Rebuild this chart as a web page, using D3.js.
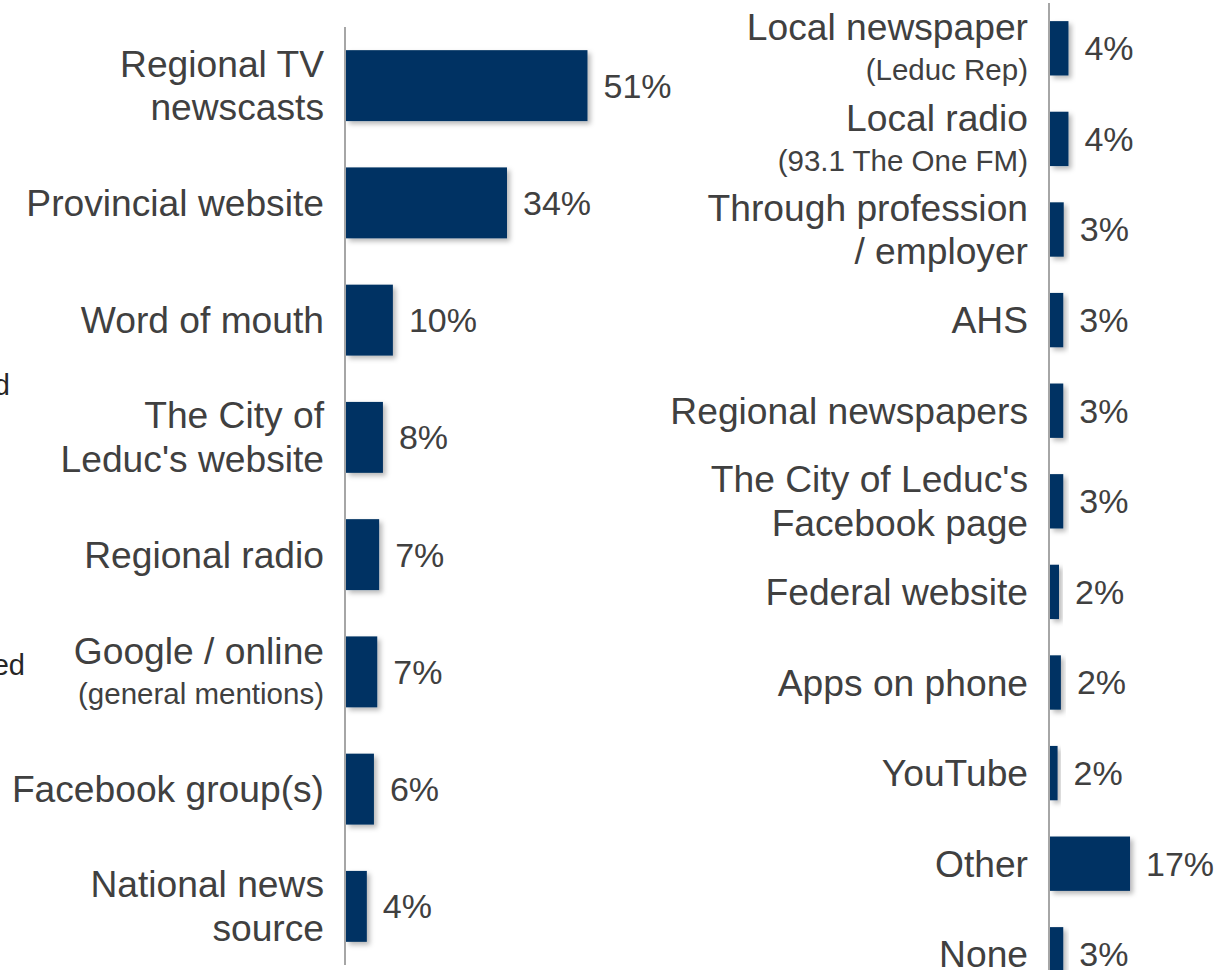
<!DOCTYPE html>
<html>
<head>
<meta charset="utf-8">
<script src="https://cdn.jsdelivr.net/npm/d3@7"></script>
<style>
  html, body { margin: 0; padding: 0; background: #ffffff; }
  svg { display: block; font-family: "Liberation Sans", Arial, sans-serif; }
</style>
</head>
<body>
<svg id="chart" width="1228" height="970"></svg>
<script>
// Sources of information (% of respondents), two columns of horizontal bars
const leftLabels = [
  ["Regional TV", "newscasts"],
  ["Provincial website"],
  ["Word of mouth"],
  ["The City of", "Leduc's website"],
  ["Regional radio"],
  ["Google / online"],
  ["Facebook group(s)"],
  ["National news", "source"]
];
const leftNotes = ["", "", "", "", "", "(general mentions)", "", ""];
const leftValues = [51, 34, 9.9, 7.8, 7.0, 6.6, 5.9, 4.4];

const rightLabels = [
  ["Local newspaper"],
  ["Local radio"],
  ["Through profession", "/ employer"],
  ["AHS"],
  ["Regional newspapers"],
  ["The City of Leduc's", "Facebook page"],
  ["Federal website"],
  ["Apps on phone"],
  ["YouTube"],
  ["Other"],
  ["None"]
];
const rightNotes = ["(Leduc Rep)", "(93.1 The One FM)", "", "", "", "", "", "", "", "", ""];
const rightValues = [3.9, 3.9, 2.9, 2.8, 2.8, 2.8, 1.9, 2.3, 1.6, 16.9, 2.8];

// Fragments of neighbouring text at the far left edge
const edgeFragments = ["d", "ed"];

const svg = d3.select("#chart");
const barColor = "#023263";
const textColor = "#404040";
const mainSize = 37.2, noteSize = 29.5, valueSize = 34;

const defs = svg.append("defs");
const f = defs.append("filter").attr("id", "shadow")
  .attr("x", "-20%").attr("y", "-20%").attr("width", "160%").attr("height", "160%");
f.append("feDropShadow").attr("dx", 3).attr("dy", 3).attr("stdDeviation", 2.5)
  .attr("flood-color", "#000").attr("flood-opacity", 0.28);

// shared value scale (percent -> pixels)
const x = d3.scaleLinear().domain([0, 100]).range([0, 473.5]);
const fmt = v => Math.round(v) + "%";

function panel(axisX, y0, y1, labels, notes, values, pad) {
  const idx = d3.range(values.length);
  const y = d3.scaleBand().domain(idx).range([y0, y1])
    .paddingInner(pad).paddingOuter(pad / 2);
  const g = svg.append("g");

  g.selectAll("rect.bar").data(idx).join("rect")
    .attr("class", "bar")
    .attr("x", axisX + 1)
    .attr("y", i => y(i))
    .attr("width", i => x(values[i]))
    .attr("height", y.bandwidth())
    .attr("fill", barColor)
    .attr("filter", "url(#shadow)");

  g.append("line")
    .attr("x1", axisX).attr("x2", axisX)
    .attr("y1", y0).attr("y2", y1)
    .attr("stroke", "#a6a6a6").attr("stroke-width", 2);

  g.selectAll("text.val").data(idx).join("text")
    .attr("class", "val")
    .attr("x", i => axisX + 1 + x(values[i]) + 16)
    .attr("y", i => y(i) + y.bandwidth() / 2 + valueSize * 0.35)
    .attr("font-size", valueSize)
    .attr("fill", textColor)
    .text(i => fmt(values[i]));

  idx.forEach(i => {
    const c = y(i) + y.bandwidth() / 2;
    const lines = labels[i];
    const note = notes[i];
    const tx = axisX - 21;
    let baselines;
    if (note) baselines = [c - 8];
    else if (lines.length === 2) baselines = [c - 9, c + 34.5];
    else baselines = [c + mainSize * 0.35];
    lines.forEach((ln, k) => {
      g.append("text")
        .attr("x", tx).attr("y", baselines[k])
        .attr("text-anchor", "end")
        .attr("font-size", mainSize)
        .attr("fill", textColor)
        .text(ln);
    });
    if (note) {
      g.append("text")
        .attr("x", tx).attr("y", c + 32)
        .attr("text-anchor", "end")
        .attr("font-size", noteSize)
        .attr("fill", textColor)
        .text(note);
    }
  });
}

panel(345, 27, 965, leftLabels, leftNotes, leftValues, 0.395);
panel(1049, 3, 3 + 11 * 90.6, rightLabels, rightNotes, rightValues, 0.4);

svg.selectAll("text.edge").data(edgeFragments).join("text")
  .attr("class", "edge")
  .attr("x", (d, i) => [10, 25][i])
  .attr("y", (d, i) => [395, 675][i])
  .attr("text-anchor", "end")
  .attr("font-size", 29)
  .attr("fill", "#262626")
  .text(d => d);
</script>
</body>
</html>
